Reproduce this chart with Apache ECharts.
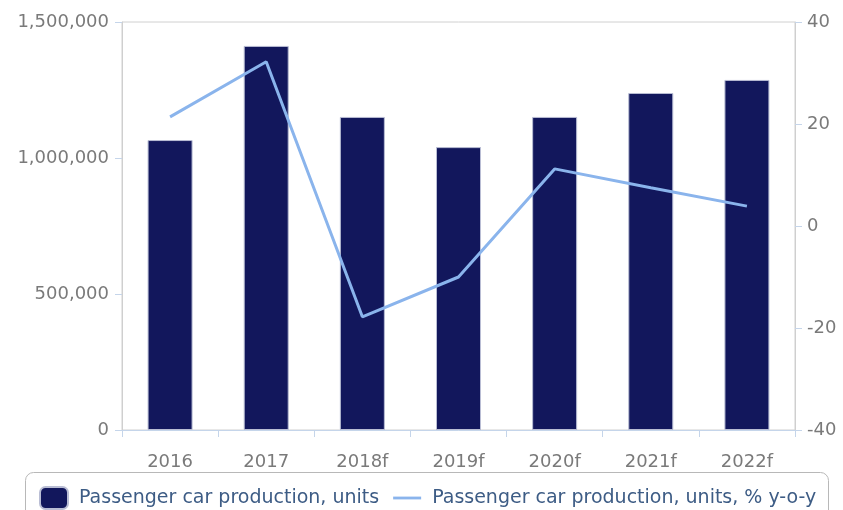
<!DOCTYPE html>
<html>
<head>
<meta charset="utf-8">
<script src="https://cdn.jsdelivr.net/npm/echarts@6/dist/echarts.min.js"></script>
<style>html,body{margin:0;padding:0;background:#fff}#c{width:843px;height:510px}</style>
</head>
<body>
<div id="c"></div>
<script>
const categories = ['2016', '2017', '2018f', '2019f', '2020f', '2021f', '2022f'];
const productionUnits = [1066000, 1412000, 1151000, 1040000, 1151000, 1239000, 1287000];
const productionYoY = [21.4, 32.2, -17.8, -10.0, 11.2, 7.5, 3.9];
const leftTicks = [0, 500000, 1000000, 1500000];
const rightTicks = [-40, -20, 0, 20, 40];
const seriesNames = ['Passenger car production, units', 'Passenger car production, units, % y-o-y'];

const chart = echarts.init(document.getElementById('c'));
const labelFont = { color: '#7a7a7a', fontSize: 18, fontFamily: 'DejaVu Sans' };
chart.setOption({
  animation: false,
  grid: { left: 122, right: 48, top: 22, bottom: 80, show: true, borderColor: '#d0d0d0', borderWidth: 1, backgroundColor: 'transparent' },
  xAxis: {
    type: 'category', data: categories, boundaryGap: true,
    axisLine: { lineStyle: { color: '#c5d5ea', width: 1 } },
    axisTick: { show: true, length: 7, lineStyle: { color: '#c5d5ea' } },
    axisLabel: Object.assign({ margin: 23 }, labelFont)
  },
  yAxis: [
    {
      type: 'value', min: leftTicks[0], max: leftTicks[leftTicks.length - 1], interval: 500000,
      axisLine: { show: true, lineStyle: { color: '#cfcfcf' } },
      axisTick: { show: true, length: 7, lineStyle: { color: '#c5d5ea' } },
      splitLine: { show: false },
      axisLabel: Object.assign({ margin: 13, formatter: v => v.toLocaleString('en-US') }, labelFont)
    },
    {
      type: 'value', min: rightTicks[0], max: rightTicks[rightTicks.length - 1], interval: 20,
      position: 'right',
      axisLine: { show: true, lineStyle: { color: '#cfcfcf' } },
      axisTick: { show: true, length: 7, lineStyle: { color: '#c5d5ea' } },
      splitLine: { show: false },
      axisLabel: Object.assign({ margin: 12 }, labelFont)
    }
  ],
  legend: {
    left: 34, top: 481, padding: 5,
    itemWidth: 28, itemHeight: 22, itemGap: 14,
    textStyle: { color: '#3d5c85', fontSize: 19, fontFamily: 'DejaVu Sans', padding: [0, 0, 0, 6] },
    data: [
      { name: seriesNames[0], icon: 'roundRect' },
      { name: seriesNames[1], icon: 'path://M0,0H40V4H0Z' }
    ]
  },
  graphic: [{
    type: 'rect', left: 25, top: 472, z: -1,
    shape: { width: 803, height: 50, r: 8 },
    style: { fill: '#fff', stroke: '#b8b8b8', lineWidth: 1 }
  }],
  series: [
    {
      name: seriesNames[0], type: 'bar', data: productionUnits, yAxisIndex: 0,
      barWidth: 45,
      itemStyle: { color: '#12175c', borderColor: '#b9bdd4', borderWidth: 1 }
    },
    {
      name: seriesNames[1], type: 'line', data: productionYoY, yAxisIndex: 1,
      symbol: 'none',
      lineStyle: { color: '#8ab4ec', width: 3 },
      itemStyle: { color: '#8ab4ec' }
    }
  ]
});
</script>
</body>
</html>
